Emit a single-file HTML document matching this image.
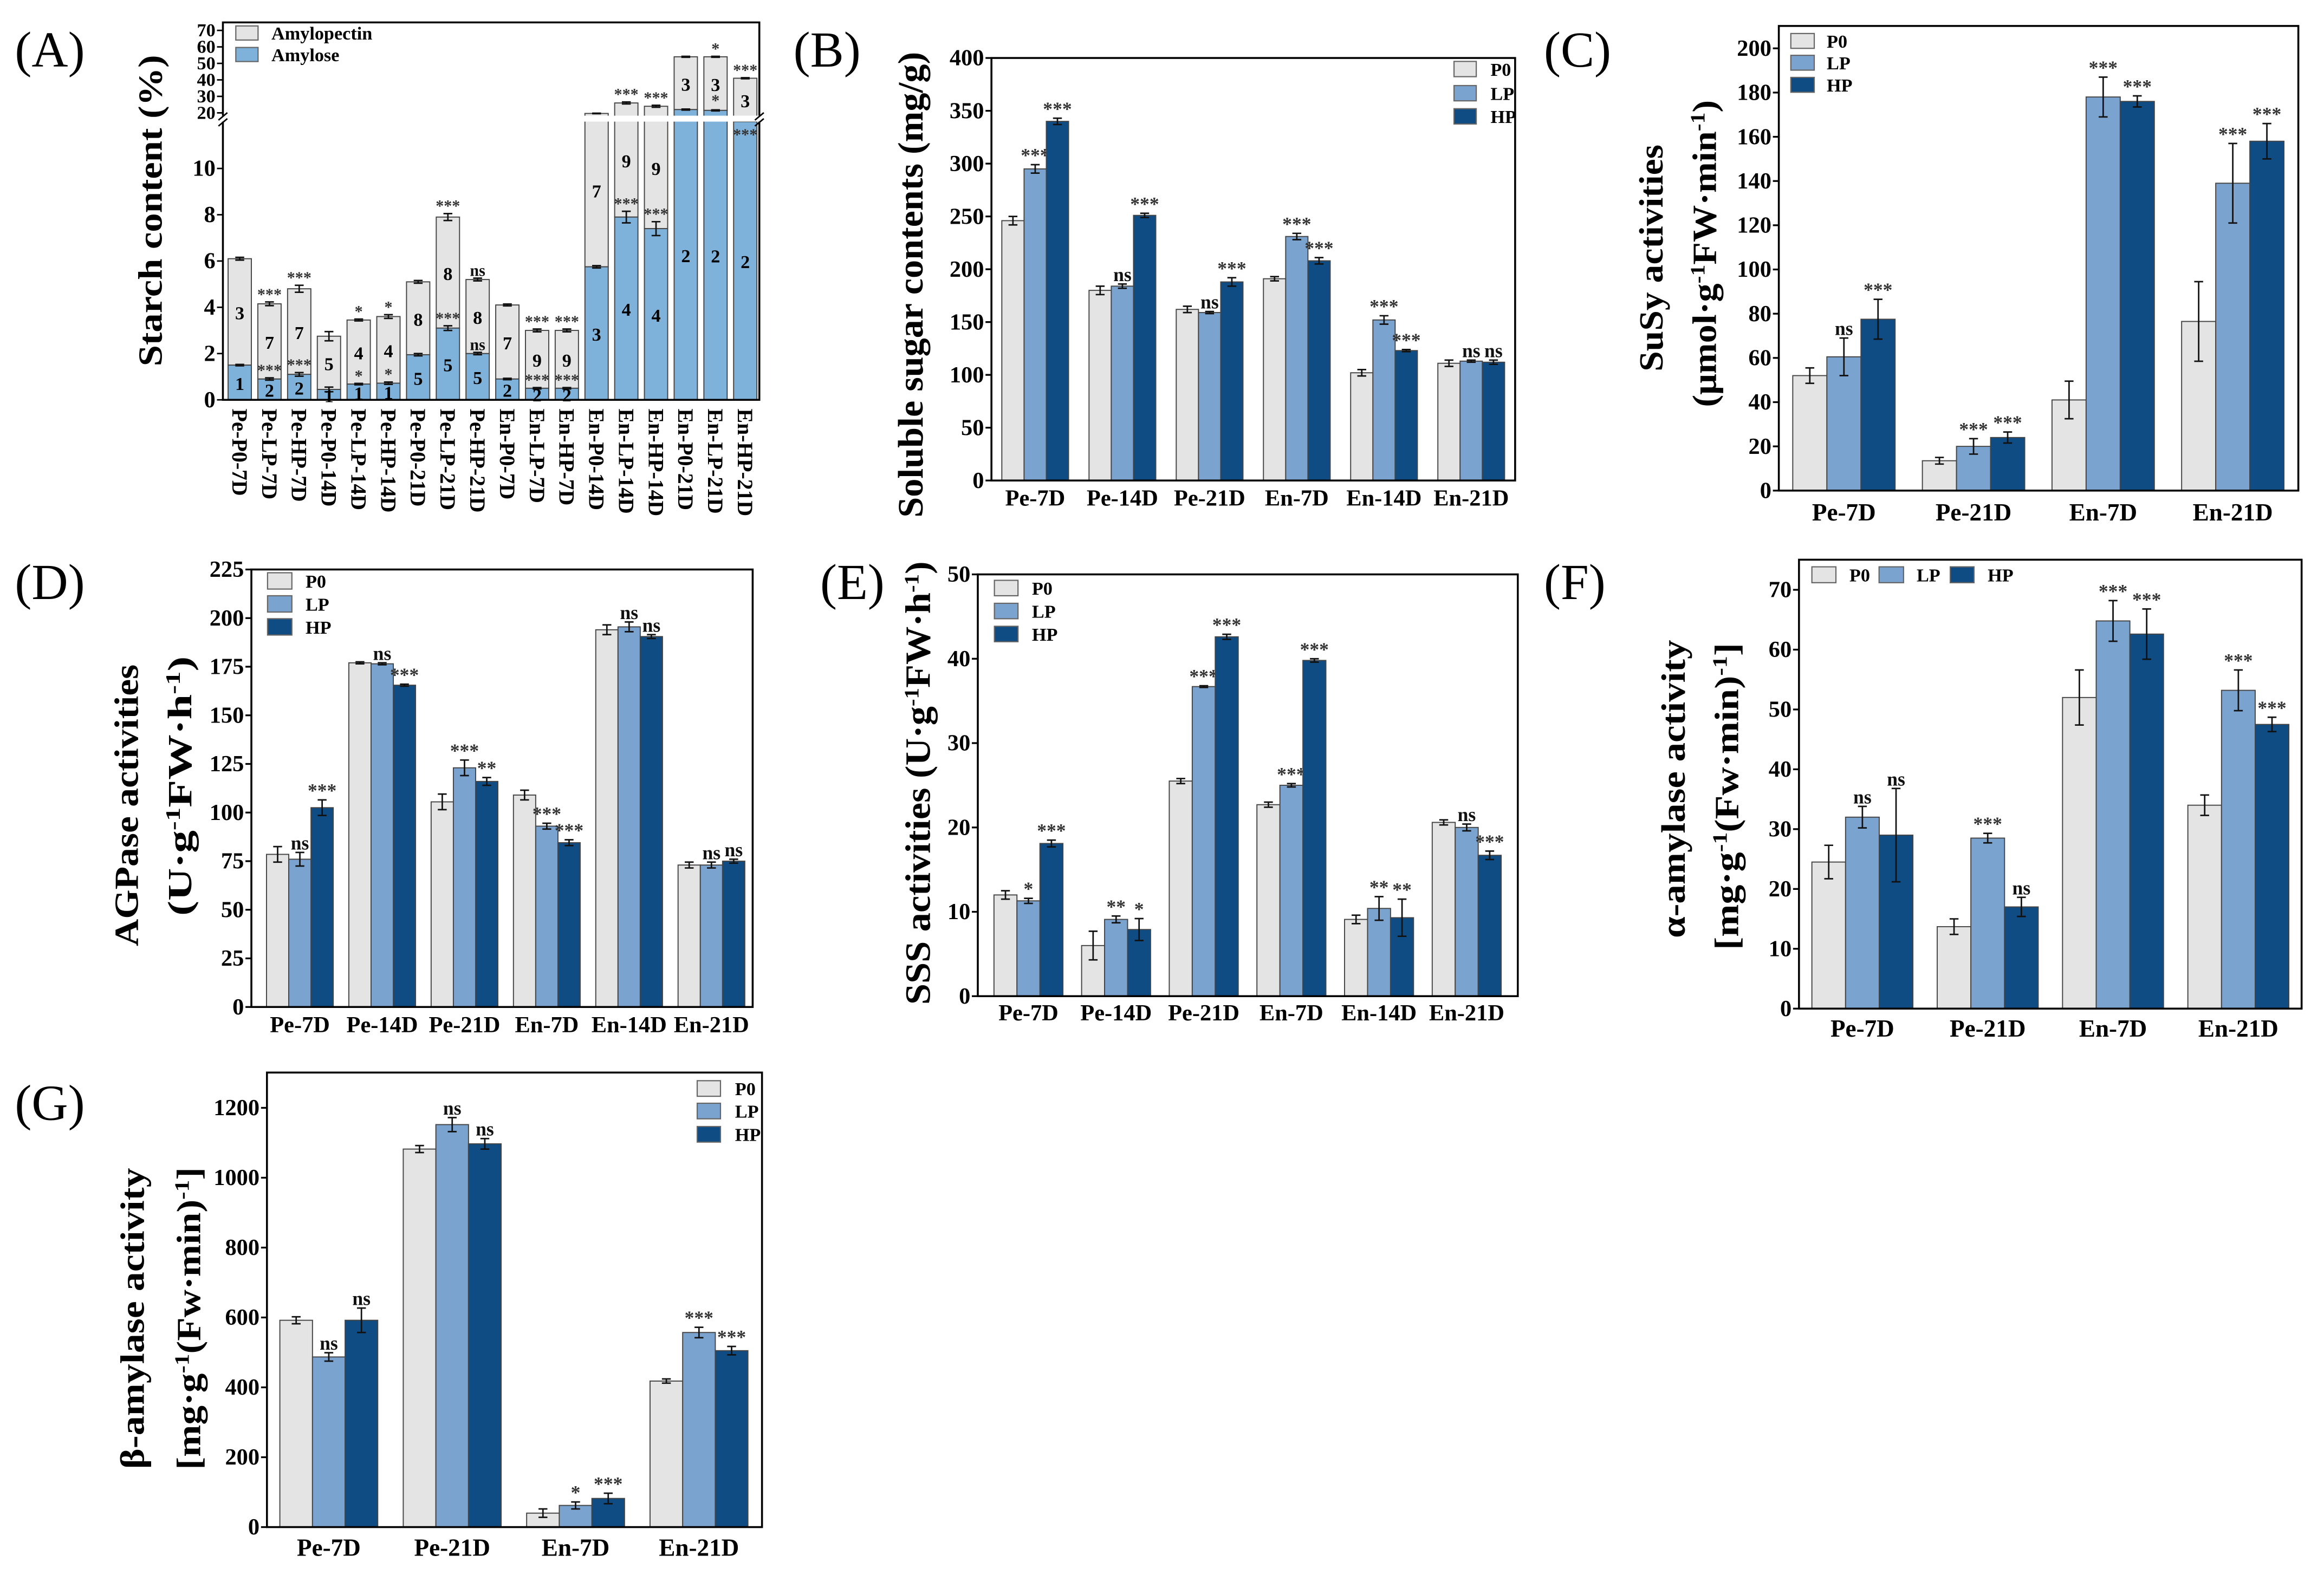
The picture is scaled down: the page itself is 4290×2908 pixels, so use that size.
<!DOCTYPE html>
<html><head><meta charset="utf-8"><style>
html,body{margin:0;padding:0;background:#fff;}
svg{display:block;}
text{font-family:"Liberation Serif",serif;}
</style></head><body>
<svg id="chart" xmlns="http://www.w3.org/2000/svg" width="4290" height="2908" viewBox="0 0 1567 1062" preserveAspectRatio="none">
<rect x="0" y="0" width="1567" height="1062" fill="#fff"/>
</svg>
<script>
// ---------- Panel A data ----------
const aCategories=["Pe-P0-7D","Pe-LP-7D","Pe-HP-7D","Pe-P0-14D","Pe-LP-14D","Pe-HP-14D","Pe-P0-21D","Pe-LP-21D","Pe-HP-21D","En-P0-7D","En-LP-7D","En-HP-7D","En-P0-14D","En-LP-14D","En-HP-14D","En-P0-21D","En-LP-21D","En-HP-21D"];
const aAmylose=[1.5,0.9,1.1,0.45,0.68,0.72,1.95,3.1,2.0,0.9,0.5,0.5,5.75,7.9,7.4,22,21.5,12.5];
const aTotal=[6.1,4.15,4.8,2.75,3.45,3.6,5.1,7.9,5.2,4.1,3.0,3.0,19.5,26,24,54,54,41];
const aAmyErr=[0.03,0.05,0.08,0.1,0.03,0.05,0.05,0.1,0.05,0.03,0.03,0.03,0.05,0.25,0.3,0.3,0.3,0];
const aTotErr=[0.06,0.08,0.15,0.2,0.04,0.08,0.06,0.15,0.06,0.04,0.06,0.06,0.2,0.6,0.6,0.3,0.3,0.3];
const aAmyLabel=["1","2","2","1","1","1","5","5","5","2","2","2","3","4","4","2","2","2"];
const aPecLabel=["3","7","7","5","4","4","8","8","8","7","9","9","7","9","9","3","3","3"];
const aAmySig=["","***","***","","*","*","","***","ns","","***","***","","***","***","","*","***"];
const aTotSig=["","***","***","","*","*","","***","ns","","***","***","","***","***","","*","***"];
const aLowTicks=[0,2,4,6,8,10];
const aHighTicks=[20,30,40,50,60,70];

// ---------- Panel B data ----------
const bCategories=["Pe-7D","Pe-14D","Pe-21D","En-7D","En-14D","En-21D"];
const bP0=[246,180,162,191,102,111];
const bLP=[295,184,159,231,152,113];
const bHP=[340,251,188,208,123,112];
const bP0Err=[4,4,3,2,3,3];
const bLPErr=[4,2,1,3,4,1];
const bHPErr=[3,2,4,3,1,2];
const bLPSig=["***","ns","ns","***","***","ns"];
const bHPSig=["***","***","***","***","***","ns"];
const bTicks=[0,50,100,150,200,250,300,350,400];

// ---------- Panel C data ----------
const cCategories=["Pe-7D","Pe-21D","En-7D","En-21D"];
const cP0=[52,13.5,41,76.5];
const cLP=[60.5,20,178,139];
const cHP=[77.5,24,176,158];
const cP0Err=[3.5,1.5,8.5,18];
const cLPErr=[8.5,3.5,9,18];
const cHPErr=[9,2.5,2.5,8];
const cLPSig=["ns","***","***","***"];
const cHPSig=["***","***","***","***"];
const cTicks=[0,20,40,60,80,100,120,140,160,180,200];

// ---------- Panel D data ----------
const dCategories=["Pe-7D","Pe-14D","Pe-21D","En-7D","En-14D","En-21D"];
const dP0=[78.5,177,105.5,109,194,73];
const dLP=[76,176.5,123,93,195.5,73];
const dHP=[102.5,165.5,116,84.5,190.5,75];
const dP0Err=[4,0.5,4,2.5,2.5,1.5];
const dLPErr=[3.5,0.5,4,1.5,2.5,1.5];
const dHPErr=[4,0.5,2,1.5,1,1];
const dLPSig=["ns","ns","***","***","ns","ns"];
const dHPSig=["***","***","**","***","ns","ns"];
const dTicks=[0,25,50,75,100,125,150,175,200,225];

// ---------- Panel E data ----------
const eCategories=["Pe-7D","Pe-14D","Pe-21D","En-7D","En-14D","En-21D"];
const eP0=[12,6,25.5,22.7,9.1,20.6];
const eLP=[11.3,9.1,36.7,25,10.4,20];
const eHP=[18.1,7.9,42.6,39.8,9.3,16.7];
const eP0Err=[0.5,1.7,0.3,0.3,0.5,0.3];
const eLPErr=[0.3,0.4,0.1,0.2,1.4,0.4];
const eHPErr=[0.4,1.3,0.3,0.2,2.2,0.5];
const eLPSig=["*","**","***","***","**","ns"];
const eHPSig=["***","*","***","***","**","***"];
const eTicks=[0,10,20,30,40,50];

// ---------- Panel F data ----------
const fCategories=["Pe-7D","Pe-21D","En-7D","En-21D"];
const fP0=[24.5,13.7,52,34];
const fLP=[32,28.5,64.8,53.2];
const fHP=[29,17,62.6,47.5];
const fP0Err=[2.8,1.3,4.6,1.7];
const fLPErr=[1.8,0.8,3.4,3.4];
const fHPErr=[7.8,1.6,4.2,1.2];
const fLPSig=["ns","***","***","***"];
const fHPSig=["ns","ns","***","***"];
const fTicks=[0,10,20,30,40,50,60,70];

// ---------- Panel G data ----------
const gCategories=["Pe-7D","Pe-21D","En-7D","En-21D"];
const gP0=[592,1082,40,418];
const gLP=[487,1152,62,557];
const gHP=[592,1097,82,505];
const gP0Err=[10,10,12,6];
const gLPErr=[12,20,10,15];
const gHPErr=[35,15,15,12];
const gLPSig=["ns","ns","*","***"];
const gHPSig=["ns","ns","***","***"];
const gTicks=[0,200,400,600,800,1000,1200];

const NS='http://www.w3.org/2000/svg';
const svg=document.getElementById('chart');
const COL_P0='#e4e4e4',COL_LP='#7ba3cf',COL_HP='#0f4c84',COL_AMY='#7fb2da';
function mk(tag,attrs,parent){const e=document.createElementNS(NS,tag);for(const k in attrs)e.setAttribute(k,attrs[k]);(parent||svg).appendChild(e);return e;}

function panelLabel(txt,x,y){
  const t=mk('text',{x:x,y:y,'font-size':34});
  t.textContent=txt;
  
  
}

function yLabel(g,html,x,cy,len,size){
  const t=mk('text',{x:0,y:0,'font-size':size||22,'font-weight':'bold','text-anchor':'middle',transform:`translate(${x},${cy}) rotate(-90)`,textLength:len,lengthAdjust:'spacingAndGlyphs'},g);
  t.innerHTML=html;
  
  
}

function legendEntry(g,x,y,w,h,col,label,tx){
  const r=mk('rect',{x:x,y:y,width:w,height:h,fill:col,stroke:'#666','stroke-width':0.8},g);
  
  
  const t=mk('text',{x:tx,y:y+h/2+4.5,'font-size':12.5,'font-weight':'bold'},g);
  t.textContent=label;
  
  
}

function errBar(g,cx,yLo,yHi){
  const p=mk('path',{d:`M${cx},${yLo}V${yHi}M${cx-3},${yLo}H${cx+3}M${cx-3},${yHi}H${cx+3}`,stroke:'#111','stroke-width':1,fill:'none'},g);
  
  
}

function sigText(g,cx,y,s,size){
  if(!s)return;
  const t=mk('text',{x:cx,y:y,'font-size':size||13,'font-weight':'bold','text-anchor':'middle',fill:s==='ns'?'#111':'#333'},g);
  t.textContent=s;
  
  
}

function grouped(c){
  const g=mk('g',{});
  
  
  const ys=v=>c.y0-v*c.ppu;
  const series=[[c.p0,c.p0e,null,COL_P0,'p0'],[c.lp,c.lpe,c.lps,COL_LP,'lp'],[c.hp,c.hpe,c.hps,COL_HP,'hp']];
  c.cats.forEach((cat,gi)=>{
    series.forEach((s,si)=>{
      const v=s[0][gi],e=s[1][gi];
      const x=c.x0+gi*c.pitch+si*c.bw;
      const r=mk('rect',{x:x,y:ys(v),width:c.bw,height:c.y0-ys(v),fill:s[3],stroke:'#444','stroke-width':0.7},g);
      
      
      const cx=x+c.bw/2;
      errBar(g,cx,ys(v-e),ys(v+e));
      if(s[2])sigText(g,cx,ys(v+e)-2,s[2][gi]);
    });
    const t=mk('text',{x:c.x0+gi*c.pitch+1.5*c.bw,y:c.xly,'font-size':c.xfs||15.5,'font-weight':'bold','text-anchor':'middle'},g);
    t.textContent=cat;
    
    
  });
  const f=mk('rect',{x:c.left,y:c.top,width:c.right-c.left,height:c.y0-c.top,fill:'none',stroke:'#000','stroke-width':1.3},g);
  
  
  c.ticks.forEach(v=>{
    const l=mk('line',{x1:c.left-4,x2:c.left,y1:ys(v),y2:ys(v),stroke:'#000','stroke-width':1.2},g);
    
    
    const t=mk('text',{x:c.left-5,y:ys(v)+5,'font-size':15.5,'font-weight':'bold','text-anchor':'end'},g);
    t.textContent=v;
    
    
  });
  return g;
}

// ---------------- Panel A ----------------
(function(){
  const g=mk('g',{});
  
  
  const L=150.3,R=512,T=15.1,B=269.6;
  const ya=v=>{ if(v<=12) return B-v*15.6; if(v<20) return 82.4-(v-12)/8*6.3; return 76.1-(v-20)*1.112; };
  const x0=153.8,pitch=20.05,bw=15.7;
  aCategories.forEach((cat,i)=>{
    const x=x0+i*pitch,cx=x+bw/2;
    const r1=mk('rect',{x:x,y:ya(aTotal[i]),width:bw,height:ya(aAmylose[i])-ya(aTotal[i]),fill:COL_P0,stroke:'#444','stroke-width':0.7},g);
    
    
    const r2=mk('rect',{x:x,y:ya(aAmylose[i]),width:bw,height:B-ya(aAmylose[i]),fill:COL_AMY,stroke:'#444','stroke-width':0.7},g);
    
    
    if(aAmyErr[i]>0)errBar(g,cx,ya(aAmylose[i]-aAmyErr[i]),ya(aAmylose[i]+aAmyErr[i]));
    errBar(g,cx,ya(aTotal[i]-aTotErr[i]),ya(aTotal[i]+aTotErr[i]));
    const t1=mk('text',{x:cx,y:(B+ya(aAmylose[i]))/2+5,'font-size':12.5,'font-weight':'bold','text-anchor':'middle'},g);
    t1.textContent=aAmyLabel[i];
    
    
    const t2=mk('text',{x:cx,y:(ya(aAmylose[i])+ya(aTotal[i]))/2+5,'font-size':12.5,'font-weight':'bold','text-anchor':'middle'},g);
    t2.textContent=aPecLabel[i];
    
    
    if(i<17 || true){ if(aAmySig[i] && aAmylose[i]<12 && i!==17) sigText(g,cx,ya(aAmylose[i]+aAmyErr[i])-1.5,aAmySig[i],11);}
    if(i===17) sigText(g,cx,ya(12)+12,aAmySig[i],11);
    if(i===16) sigText(g,cx,ya(aAmylose[i])-3,aAmySig[i],11);
    sigText(g,cx,ya(aTotal[i]+aTotErr[i])-1.5,aTotSig[i],11);
    const xl=mk('text',{x:0,y:0,'font-size':14.5,'font-weight':'bold',transform:`translate(${cx-5},${B+6}) rotate(90)`},g);
    xl.textContent=cat;
    
    
  });
  // break band
  const br=mk('rect',{x:L-3,y:78,width:R-L+6,height:4,fill:'#fff'},g);
  
  
  const fr=mk('path',{d:`M${L},78V${T}H${R}V78M${L},82V${B}H${R}V82`,fill:'none',stroke:'#000','stroke-width':1.3},g);
  
  
  const bm=mk('path',{d:`M${L-3},81L${L+3},76M${L-3},85L${L+3},80M${R-3},81L${R+3},76M${R-3},85L${R+3},80`,stroke:'#000','stroke-width':1},g);
  
  
  aLowTicks.forEach(v=>{
    const l=mk('line',{x1:L-4,x2:L,y1:ya(v),y2:ya(v),stroke:'#000'},g);
    
    
    const t=mk('text',{x:L-5,y:ya(v)+5,'font-size':15.5,'font-weight':'bold','text-anchor':'end'},g);
    t.textContent=v;
    
    
  });
  aHighTicks.forEach(v=>{
    const l=mk('line',{x1:L-4,x2:L,y1:ya(v),y2:ya(v),stroke:'#000'},g);
    
    
    const t=mk('text',{x:L-5,y:ya(v)+4,'font-size':12.5,'font-weight':'bold','text-anchor':'end'},g);
    t.textContent=v;
    
    
  });
  legendEntry(g,159,17.5,15,9.5,COL_P0,'Amylopectin',183);
  legendEntry(g,159,32,15,9.5,COL_AMY,'Amylose',183);
  yLabel(g,'Starch content (%)',109,142,210,23);
})();

// ---------------- Panels B-G ----------------
const gb=grouped({name:'panel-b-soluble-sugar',cats:bCategories,p0:bP0,lp:bLP,hp:bHP,p0e:bP0Err,lpe:bLPErr,hpe:bHPErr,lps:bLPSig,hps:bHPSig,ticks:bTicks,
  left:668.5,right:1021.6,top:39.1,y0:324,ppu:(324-39.1)/400,x0:675.5,pitch:58.8,bw:15,xly:341});
legendEntry(gb,980.4,41.4,15,10.3,COL_P0,'P0',1005);
legendEntry(gb,980.4,57.7,15,10.3,COL_LP,'LP',1005);
legendEntry(gb,980.4,73.3,15,10.3,COL_HP,'HP',1005);
yLabel(gb,'Soluble sugar contents (mg/g)',622,192,314,24);

const gc=grouped({name:'panel-c-susy',cats:cCategories,p0:cP0,lp:cLP,hp:cHP,p0e:cP0Err,lpe:cLPErr,hpe:cHPErr,lps:cLPSig,hps:cHPSig,ticks:cTicks,
  left:1199.4,right:1549.7,top:17.5,y0:330.8,ppu:(330.8-32.6)/200,x0:1208.8,pitch:87.4,bw:23,xly:351,xfs:16.5});
legendEntry(gc,1207.5,22.6,15.8,10,COL_P0,'P0',1231.7);
legendEntry(gc,1207.5,37.3,15.8,10,COL_LP,'LP',1231.7);
legendEntry(gc,1207.5,52.2,15.8,10,COL_HP,'HP',1231.7);
yLabel(gc,'SuSy activities',1121,174,153,23);
yLabel(gc,'(μmol·g<tspan baseline-shift="super" font-size="14">-1</tspan>FW·min<tspan baseline-shift="super" font-size="14">-1</tspan>)',1157,171,207,23);

const gd=grouped({name:'panel-d-agpase',cats:dCategories,p0:dP0,lp:dLP,hp:dHP,p0e:dP0Err,lpe:dLPErr,hpe:dHPErr,lps:dLPSig,hps:dHPSig,ticks:dTicks,
  left:169.5,right:507.5,top:384,y0:679,ppu:(679-384)/225,x0:179.7,pitch:55.5,bw:15,xly:696});
legendEntry(gd,180.4,386.2,16.4,11,COL_P0,'P0',206);
legendEntry(gd,180.4,401.7,16.4,11,COL_LP,'LP',206);
legendEntry(gd,180.4,417.2,16.4,11,COL_HP,'HP',206);
yLabel(gd,'AGPase activities',93,543,190,23);
yLabel(gd,'(U·g<tspan baseline-shift="super" font-size="14">-1</tspan>FW·h<tspan baseline-shift="super" font-size="14">-1</tspan>)',129,530,175,23);

const ge=grouped({name:'panel-e-sss',cats:eCategories,p0:eP0,lp:eLP,hp:eHP,p0e:eP0Err,lpe:eLPErr,hpe:eHPErr,lps:eLPSig,hps:eHPSig,ticks:eTicks,
  left:659.3,right:1023.4,top:387.3,y0:671.7,ppu:(671.7-387.3)/50,x0:670.2,pitch:59.1,bw:15.5,xly:688});
legendEntry(ge,670.5,391.3,15.9,10.4,COL_P0,'P0',695.8);
legendEntry(ge,670.5,406.8,15.9,10.4,COL_LP,'LP',695.8);
legendEntry(ge,670.5,422.3,15.9,10.4,COL_HP,'HP',695.8);
yLabel(ge,'SSS activities (U·g<tspan baseline-shift="super" font-size="14">-1</tspan>FW·h<tspan baseline-shift="super" font-size="14">-1</tspan>)',627,528,299,24);

const gf=grouped({name:'panel-f-alpha-amylase',cats:fCategories,p0:fP0,lp:fLP,hp:fHP,p0e:fP0Err,lpe:fLPErr,hpe:fHPErr,lps:fLPSig,hps:fHPSig,ticks:fTicks,
  left:1213,right:1551.9,top:377.4,y0:680.1,ppu:(680.1-397.7)/70,x0:1221.7,pitch:84.5,bw:22.7,xly:699,xfs:16.5});
legendEntry(gf,1221.7,382.2,16.2,10.7,COL_P0,'P0',1247);
legendEntry(gf,1267,382.2,16.5,10.7,COL_LP,'LP',1292.3);
legendEntry(gf,1315,382.2,16,10.7,COL_HP,'HP',1340.2);
yLabel(gf,'α-amylase activity',1136,532,201,23);
yLabel(gf,'[mg·g<tspan baseline-shift="super" font-size="14">-1</tspan>(Fw·min)<tspan baseline-shift="super" font-size="14">-1</tspan>]',1172,537,207,23);

const gg=grouped({name:'panel-g-beta-amylase',cats:gCategories,p0:gP0,lp:gLP,hp:gHP,p0e:gP0Err,lpe:gLPErr,hpe:gHPErr,lps:gLPSig,hps:gHPSig,ticks:gTicks,
  left:180,right:513.8,top:723.2,y0:1029.7,ppu:(1029.7-747)/1200,x0:188.7,pitch:83.2,bw:22,xly:1049,xfs:16.5});
legendEntry(gg,470.1,728.7,15.7,10.5,COL_P0,'P0',495.6);
legendEntry(gg,470.1,743.9,15.7,10.5,COL_LP,'LP',495.6);
legendEntry(gg,470.1,759.6,15.7,10.5,COL_HP,'HP',495.6);
yLabel(gg,'β-amylase activity',97,889,203,23);
yLabel(gg,'[mg·g<tspan baseline-shift="super" font-size="14">-1</tspan>(Fw·min)<tspan baseline-shift="super" font-size="14">-1</tspan>]',135,889,204,23);

panelLabel('(A)',10,45);
panelLabel('(B)',535,45);
panelLabel('(C)',1041,45);
panelLabel('(D)',10,404);
panelLabel('(E)',553,404);
panelLabel('(F)',1041,404);
panelLabel('(G)',10,755);
</script>
</body></html>
